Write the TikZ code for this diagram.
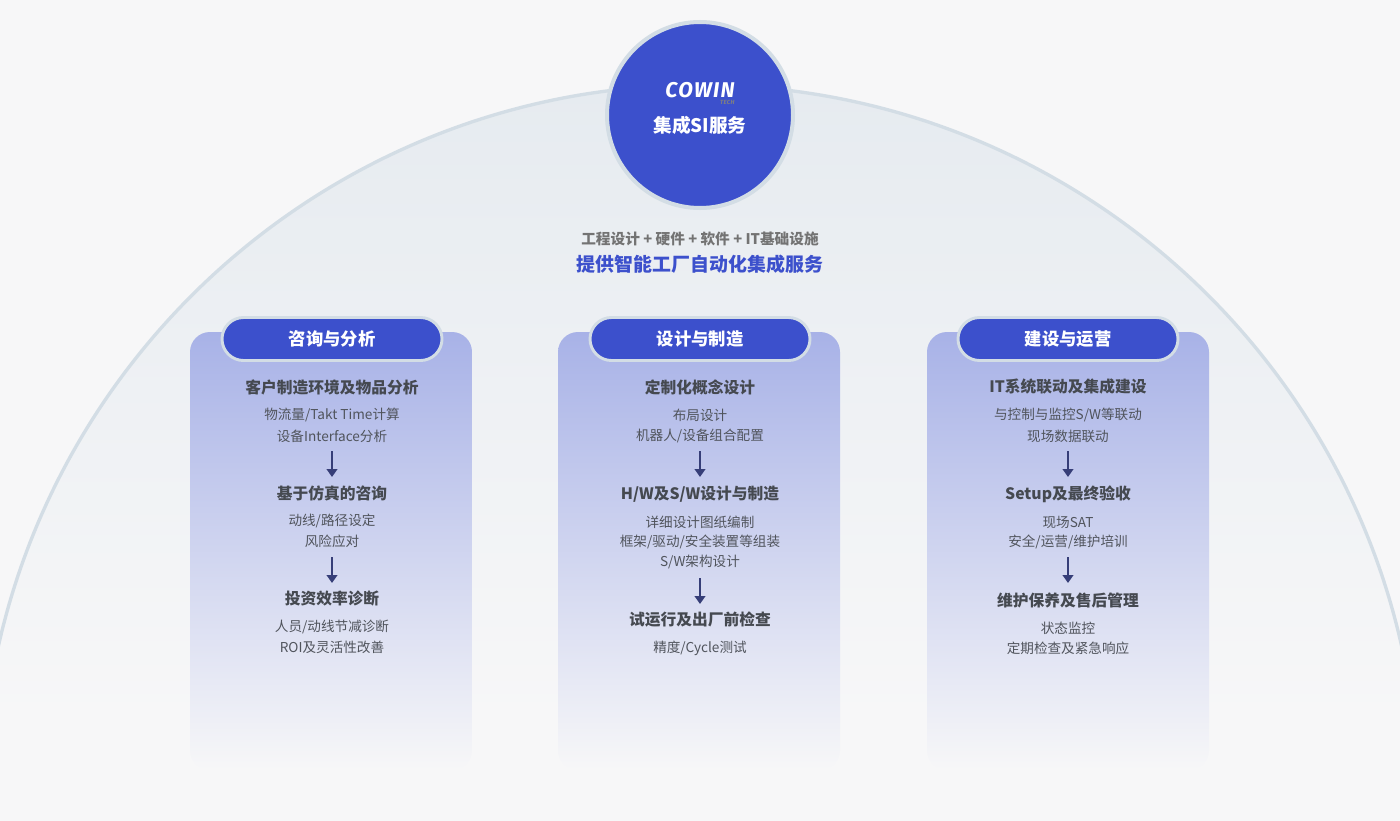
\documentclass[tikz,border=0pt]{standalone}
\usepackage{fontspec}
\setmainfont{Noto Sans CJK SC}
\newfontfamily\logofont[LetterSpace=6]{Fira Sans}
\usetikzlibrary{arrows.meta}
\definecolor{bg}{HTML}{F7F7F8}
\definecolor{blu}{HTML}{3C50CC}
\definecolor{ring}{HTML}{D3DDE5}
\definecolor{tit}{HTML}{454950}
\definecolor{sub}{HTML}{50545C}
\definecolor{arr}{HTML}{363E78}
\definecolor{colt}{HTML}{A8B2E7}
\definecolor{colm}{HTML}{E8EAF6}
\definecolor{arcA}{HTML}{E6EBF0}
\begin{document}
\begin{tikzpicture}[x=0.75pt,y=-0.75pt,
 ttl/.style={font=\fontsize{11.8}{13}\selectfont\bfseries,text=tit},
 ln/.style={font=\fontsize{10.2}{11}\selectfont,text=sub},
 ar/.style={draw=arr,line width=1.6pt,-{Triangle[length=6pt,width=8pt]}},
 pill/.style={draw=ring,line width=2.2pt,fill=blu,rounded corners=21.5*0.75pt,minimum width=220*0.75pt,minimum height=43*0.75pt,text=white,font=\fontsize{13}{14}\selectfont\bfseries}]
\fill[bg] (0,0) rectangle (1400,821);
\useasboundingbox (0,0) rectangle (1400,821);
\begin{scope}
\clip (700,804) circle (719*0.75pt);
\shade[top color=arcA,bottom color=bg] (0,85) rectangle (1400,720);
\end{scope}
\begin{scope}
\clip (0,0) rectangle (1400,821);
\draw[ring,line width=2.5pt] (700,804) circle (719*0.75pt);
\end{scope}
% columns
\foreach \cx in {331,699,1068}{
 \shade[top color=colt,middle color=colm,bottom color=bg,rounded corners=15pt] (\cx-141,332) rectangle (\cx+141,770);
}
\node[pill] (h1) at (332,339) {咨询与分析};
\node[pill] (h2) at (700,339) {设计与制造};
\node[pill] (h3) at (1068,339) {建设与运营};
% center circle
\node[circle,fill=blu,draw=ring,line width=3pt,minimum size=186*0.75pt] (c) at (700,115) {};
\node[text=white,font=\logofont\fontsize{16}{16}\selectfont\bfseries\itshape,inner sep=0pt] (logo) at (700,90) {COWIN};
\node[text=gray,font=\logofont\fontsize{4.5}{4.5}\selectfont\bfseries\itshape,inner sep=0pt,anchor=north east] (tech) at ([yshift=-1.5pt]logo.south east) {TECH};
\node[text=white,font=\fontsize{14}{15}\selectfont\bfseries] (cs) at (700,125) {集成SI服务};
\node[text=gray!90!black,font=\fontsize{11}{12}\selectfont\bfseries] (t1) at (700,239) {工程设计 + 硬件 + 软件 + IT基础设施};
\node[text=blu,font=\fontsize{14.2}{15}\selectfont\bfseries] (t2) at (700,264) {提供智能工厂自动化集成服务};
% col1
\node[ttl] (a1) at (332,387) {客户制造环境及物品分析};
\node[ln] (a1a) at (332,415) {物流量/Takt Time计算};
\node[ln] (a1b) at (332,436) {设备Interface分析};
\coordinate (a1s) at (332,451); \coordinate (a1e) at (332,477);
\draw[ar] (a1s)--(a1e);
\node[ttl] (a2) at (332,493) {基于仿真的咨询};
\node[ln] (a2a) at (332,521) {动线/路径设定};
\node[ln] (a2b) at (332,541) {风险应对};
\coordinate (a2s) at (332,557); \coordinate (a2e) at (332,583);
\draw[ar] (a2s)--(a2e);
\node[ttl] (a3) at (332,599) {投资效率诊断};
\node[ln] (a3a) at (332,627) {人员/动线节减诊断};
\node[ln] (a3b) at (332,647) {ROI及灵活性改善};
% col2
\node[ttl] (b1) at (700,387) {定制化概念设计};
\node[ln] (b1a) at (700,415) {布局设计};
\node[ln] (b1b) at (700,436) {机器人/设备组合配置};
\coordinate (b1s) at (700,451); \coordinate (b1e) at (700,477);
\draw[ar] (b1s)--(b1e);
\node[ttl] (b2) at (700,494) {H/W及S/W设计与制造};
\node[ln] (b2a) at (700,522) {详细设计图纸编制};
\node[ln] (b2b) at (700,542) {框架/驱动/安全装置等组装};
\node[ln] (b2c) at (700,562) {S/W架构设计};
\coordinate (b2s) at (700,578); \coordinate (b2e) at (700,604);
\draw[ar] (b2s)--(b2e);
\node[ttl] (b3) at (700,620) {试运行及出厂前检查};
\node[ln] (b3a) at (700,648) {精度/Cycle测试};
% col3
\node[ttl] (c1) at (1068,387) {IT系统联动及集成建设};
\node[ln] (c1a) at (1068,415) {与控制与监控S/W等联动};
\node[ln] (c1b) at (1068,436) {现场数据联动};
\coordinate (c1s) at (1068,451); \coordinate (c1e) at (1068,477);
\draw[ar] (c1s)--(c1e);
\node[ttl] (c2) at (1068,494) {Setup及最终验收};
\node[ln] (c2a) at (1068,522) {现场SAT};
\node[ln] (c2b) at (1068,542) {安全/运营/维护培训};
\coordinate (c2s) at (1068,557); \coordinate (c2e) at (1068,583);
\draw[ar] (c2s)--(c2e);
\node[ttl] (c3) at (1068,600) {维护保养及售后管理};
\node[ln] (c3a) at (1068,628) {状态监控};
\node[ln] (c3b) at (1068,648) {定期检查及紧急响应};
\end{tikzpicture}
\end{document}
